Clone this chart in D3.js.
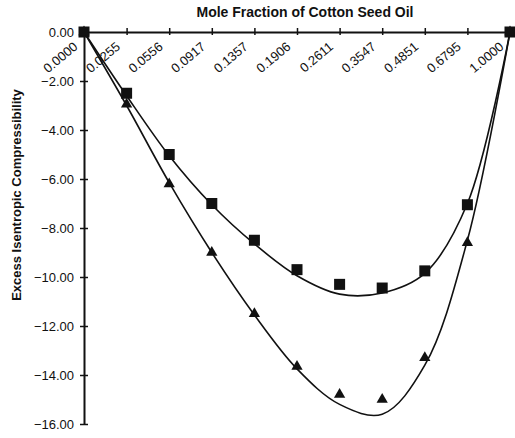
<!DOCTYPE html>
<html>
<meta charset="utf-8">
<head>
<style>
    body { margin: 0; background: white; }
    text { font-family: "Liberation Sans", Arial, sans-serif; fill: #111; }
    .axis path, .axis line { stroke: #111; }
    .axis_title { font-weight: bold; }
    .axis .tick text { font-size: 13px; }
    .fit { fill: none; stroke: #111; stroke-width: 1.6px; }
</style>
</head>
<body>
<div id="viz"></div>
<script src="https://cdn.jsdelivr.net/npm/d3@7"></script>
<script>
const width = 515;
const height = 438;

// mole fraction of cotton seed oil (categories)
const moleFraction = ['0.0000', '0.0255', '0.0556', '0.0917', '0.1357', '0.1906',
    '0.2611', '0.3547', '0.4851', '0.6795', '1.0000'];

// measured points
const squares = [0, -2.5, -5.0, -7.0, -8.5, -9.7, -10.3, -10.45, -9.75, -7.05, 0];
const triangles = [0, -2.95, -6.2, -9.0, -11.5, -13.65, -14.8, -15.0, -13.3, -8.6, 0];

// trend lines at each category
const squaresFit = [0, -2.6, -5.05, -7.05, -8.65, -9.95, -10.7, -10.65, -9.85, -7.0, 0];
const trianglesFit = [0, -3.0, -6.15, -9.0, -11.55, -13.75, -15.2, -15.6, -13.6, -8.5, 0];

const yTicks = [0, -2, -4, -6, -8, -10, -12, -14, -16];

const margin = { top: 32, left: 84 };
const plotW = 426;
const plotH = 392;

const svg = d3.select("#viz")
    .append("svg")
    .attr("width", width)
    .attr("height", height);

const g = svg.append("g")
    .attr("transform", "translate(" + margin.left + "," + margin.top + ")");

const x = d3.scalePoint()
    .domain(moleFraction)
    .range([0, plotW]);

const y = d3.scaleLinear()
    .domain([0, -16])
    .range([0, plotH]);

// y axis with crossing ticks
const yAxis = g.append("g")
    .attr("class", "axis")
    .call(d3.axisLeft(y).tickValues(yTicks).tickFormat(d3.format(".2f")).tickSize(4).tickSizeOuter(0));
yAxis.select(".domain").attr("stroke-width", 2);
yAxis.selectAll(".tick line").attr("x2", 4).attr("x1", -4).attr("stroke-width", 1.5);
yAxis.selectAll(".tick text").attr("x", -10).attr("dy", "0.35em");

// x axis at the top
const xAxis = g.append("g")
    .attr("class", "axis")
    .call(d3.axisTop(x).tickSize(4).tickSizeOuter(0));
xAxis.select(".domain").attr("stroke-width", 2);
xAxis.selectAll(".tick line").attr("y1", 3).attr("y2", -4).attr("stroke-width", 1.5);
xAxis.selectAll(".tick text")
    .attr("text-anchor", "end")
    .attr("dy", null)
    .attr("y", 0)
    .attr("transform", "translate(-6,16) rotate(-40)");

// axis titles
svg.append("text")
    .attr("class", "axis_title")
    .attr("x", 305)
    .attr("y", 17)
    .attr("font-size", 14)
    .attr("text-anchor", "middle")
    .text("Mole Fraction of Cotton Seed Oil");

svg.append("text")
    .attr("class", "axis_title")
    .attr("transform", "translate(21,195) rotate(-90)")
    .attr("font-size", 13)
    .attr("text-anchor", "middle")
    .text("Excess Isentropic Compressibility");

// trend lines
const line = d3.line()
    .x((d, i) => x(moleFraction[i]))
    .y(d => y(d))
    .curve(d3.curveCatmullRom.alpha(0.5));

g.append("path").datum(squaresFit).attr("class", "fit").attr("d", line);
g.append("path").datum(trianglesFit).attr("class", "fit").attr("d", line);

// markers
g.selectAll(".sq")
    .data(squares)
    .enter()
    .append("rect")
    .attr("class", "sq")
    .attr("x", (d, i) => x(moleFraction[i]) - 5.5)
    .attr("y", d => y(d) - 5.5)
    .attr("width", 11)
    .attr("height", 11)
    .attr("fill", "#111");

const tri = d3.symbol().type(d3.symbolTriangle).size(55);
g.selectAll(".tri")
    .data(triangles)
    .enter()
    .append("path")
    .attr("class", "tri")
    .attr("d", tri)
    .attr("transform", (d, i) => "translate(" + x(moleFraction[i]) + "," + y(d) + ")")
    .attr("fill", "#111");
</script>
</body>
</html>
